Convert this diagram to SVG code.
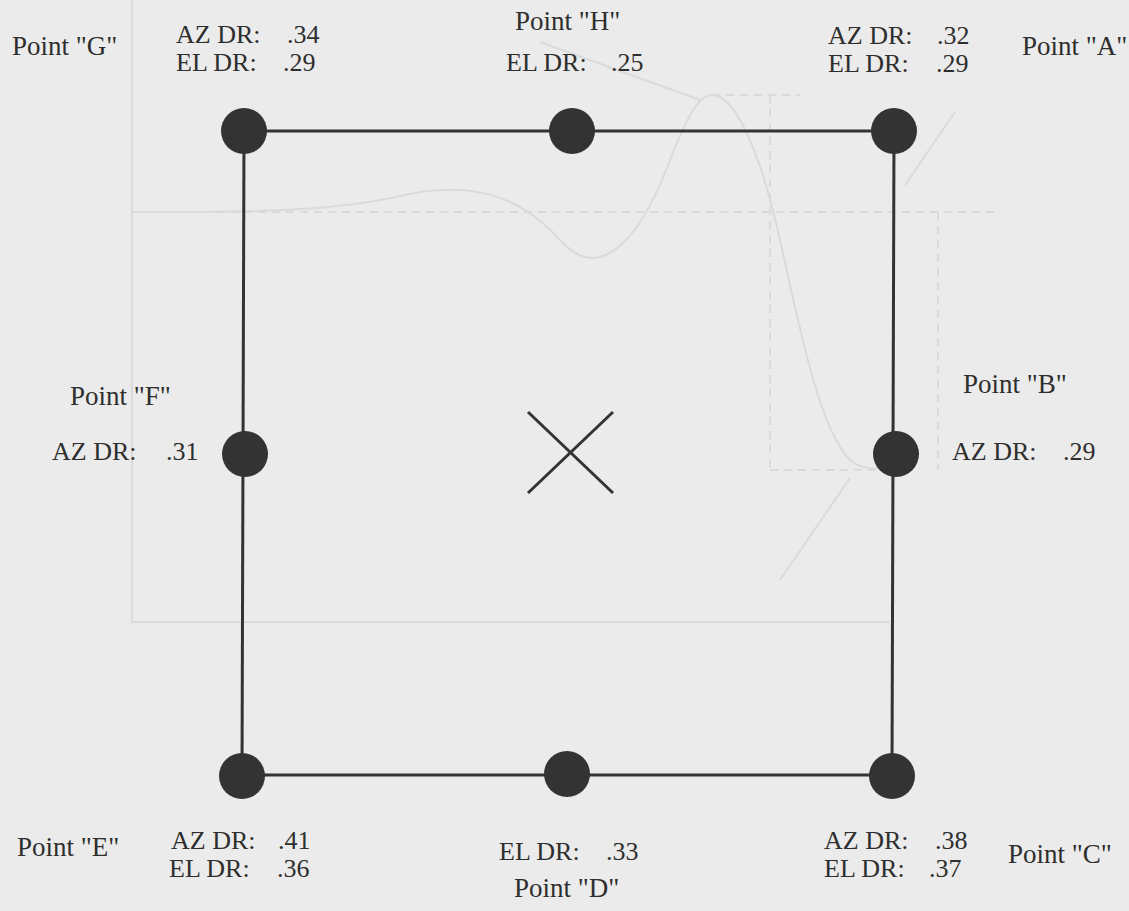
<svg xmlns="http://www.w3.org/2000/svg" width="1129" height="911" viewBox="0 0 1129 911">
<style>
.bg{fill:#ebebeb}
.faint{fill:none;stroke:#dadada;stroke-width:2}
.dash{fill:none;stroke:#dadada;stroke-width:2;stroke-dasharray:8 6}
.edge{stroke:#333;stroke-width:3;fill:none}
.dot{fill:#333}
.t{font-family:'Liberation Serif','DejaVu Serif',serif;font-size:26px;fill:#2e2e2e}
.p{font-size:27px}
</style>
<rect class="bg" x="0" y="0" width="1129" height="911"/>
<g id="background">
<path class="faint" d="M132 0 V622 H890"/>
<path class="faint" d="M132 212 C250 212 330 212 400 196 C470 180 520 195 560 240 C600 285 640 240 670 160 C690 110 700 95 712 95 C735 95 760 150 780 240 C800 330 820 430 850 460 C865 472 880 468 900 468"/>
<path class="dash" d="M132 212 H1000"/>
<path class="dash" d="M712 95 H800"/>
<path class="dash" d="M770 95 V470"/>
<path class="dash" d="M770 470 H900"/>
<path class="dash" d="M938 212 V470"/>
<path class="faint" d="M540 42 L700 100"/>
<path class="faint" d="M780 580 L850 478"/>
<path class="faint" d="M955 112 L905 185"/>
</g>
<g id="connectors">
<line class="edge" x1="244" y1="131" x2="894" y2="131"/>
<line class="edge" x1="244" y1="131" x2="242" y2="776"/>
<line class="edge" x1="894" y1="131" x2="892" y2="776"/>
<line class="edge" x1="242" y1="775" x2="892" y2="775"/>
</g>
<g id="cross">
<line class="edge" x1="528" y1="412" x2="613" y2="493"/>
<line class="edge" x1="613" y1="412" x2="528" y2="493"/>
</g>
<g id="pointG" class="t">
<circle class="dot" cx="244" cy="131" r="23"/>
<text class="p" x="12" y="55">Point "G"</text>
<text x="176" y="43">AZ DR:</text><text x="287" y="43">.34</text>
<text x="176" y="71">EL DR:</text><text x="283" y="71">.29</text>
</g>
<g id="pointH" class="t">
<circle class="dot" cx="572" cy="131" r="23"/>
<text class="p" x="515" y="30">Point "H"</text>
<text x="506" y="71">EL DR:</text><text x="611" y="71">.25</text>
</g>
<g id="pointA" class="t">
<circle class="dot" cx="894" cy="131" r="23"/>
<text x="828" y="44">AZ DR:</text><text x="937" y="44">.32</text>
<text x="828" y="72">EL DR:</text><text x="936" y="72">.29</text>
<text class="p" x="1022" y="55">Point "A"</text>
</g>
<g id="pointF" class="t">
<circle class="dot" cx="245" cy="454" r="23"/>
<text class="p" x="70" y="405">Point "F"</text>
<text x="52" y="460">AZ DR:</text><text x="166" y="460">.31</text>
</g>
<g id="pointB" class="t">
<circle class="dot" cx="896" cy="454" r="23"/>
<text class="p" x="963" y="393">Point "B"</text>
<text x="952" y="460">AZ DR:</text><text x="1063" y="460">.29</text>
</g>
<g id="pointE" class="t">
<circle class="dot" cx="242" cy="776" r="23"/>
<text class="p" x="17" y="856">Point "E"</text>
<text x="171" y="849">AZ DR:</text><text x="278" y="849">.41</text>
<text x="169" y="877">EL DR:</text><text x="277" y="877">.36</text>
</g>
<g id="pointD" class="t">
<circle class="dot" cx="567" cy="774" r="23"/>
<text x="499" y="860">EL DR:</text><text x="606" y="860">.33</text>
<text class="p" x="514" y="897">Point "D"</text>
</g>
<g id="pointC" class="t">
<circle class="dot" cx="892" cy="776" r="23"/>
<text x="824" y="849">AZ DR:</text><text x="935" y="849">.38</text>
<text x="824" y="877">EL DR:</text><text x="929" y="877">.37</text>
<text class="p" x="1008" y="863">Point "C"</text>
</g>
</svg>
